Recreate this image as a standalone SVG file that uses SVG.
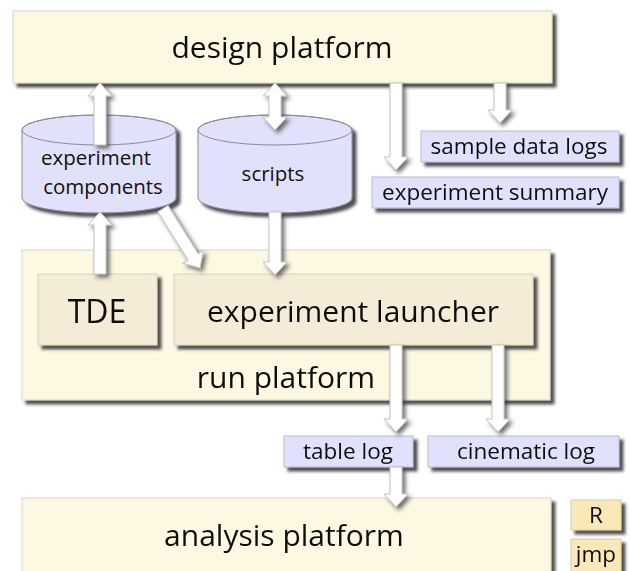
<svg xmlns="http://www.w3.org/2000/svg" width="630" height="571" viewBox="0 0 630 571">
<defs>
<filter id="sh" x="-10%" y="-10%" width="130%" height="140%">
<feDropShadow dx="4" dy="4" stdDeviation="1.8" flood-color="#303030" flood-opacity="0.85"/>
</filter>
<filter id="ash" x="-50%" y="-20%" width="200%" height="150%">
<feDropShadow dx="3" dy="3" stdDeviation="2" flood-color="#303030" flood-opacity="0.7"/>
</filter>
</defs>
<style>
text{font-family:"Open Sans",Lato,"Liberation Sans",sans-serif;fill:#111;text-anchor:middle}
.plat{fill:#fdf8e2;stroke:#d8d4c4;stroke-width:1}
.inner{fill:#f5ecd8;stroke:#d8d2c0;stroke-width:1}
.blue{fill:#e0e1fb;stroke:#b8b9d4;stroke-width:1}
.tool{fill:#f9e9b8;stroke:#d8cca0;stroke-width:1}
.cyl{fill:#e0e1fb;stroke:#8a8a9a;stroke-width:1}
.arr{fill:#ffffff;stroke:#c4c4c4;stroke-width:1}
.big{font-size:30px}
.mid{font-size:30px}
.tde{font-size:32px}
.sm{font-size:22.5px}
.cy{font-size:20.5px}
</style>

<g id="design-platform" filter="url(#sh)">
<rect class="plat" x="13" y="11" width="539" height="72"/>
<text class="big" x="282" y="58">design platform</text>
</g>

<g id="experiment-components">
<path class="cyl" filter="url(#sh)" d="M22,130 A77,15 0 0 1 176,130 L176,198 A77,15 0 0 1 22,198 Z"/>
<ellipse cx="99" cy="130" rx="77" ry="15" fill="none" stroke="#8a8a9a" stroke-width="1"/>
<text class="cy" x="96" y="165">experiment</text>
<text class="cy" x="103" y="194">components</text>
</g>

<g id="scripts">
<path class="cyl" filter="url(#sh)" d="M198,130 A77,15 0 0 1 352,130 L352,198 A77,15 0 0 1 198,198 Z"/>
<ellipse cx="275" cy="130" rx="77" ry="15" fill="none" stroke="#8a8a9a" stroke-width="1"/>
<text class="cy" x="273" y="181">scripts</text>
</g>

<g id="sample-data-logs" filter="url(#sh)">
<rect class="blue" x="421" y="131" width="198" height="31"/>
<text class="sm" x="519" y="154">sample data logs</text>
</g>

<g id="experiment-summary" filter="url(#sh)">
<rect class="blue" x="372" y="177" width="247" height="31"/>
<text class="sm" x="495" y="200">experiment summary</text>
</g>

<g id="run-platform" filter="url(#sh)">
<rect class="plat" x="22" y="250" width="528" height="150"/>
<text class="mid" x="286" y="388">run platform</text>
</g>

<g id="tde" filter="url(#sh)">
<rect class="inner" x="38" y="274" width="119" height="71"/>
<text class="tde" x="97" y="323">TDE</text>
</g>

<g id="experiment-launcher" filter="url(#sh)">
<rect class="inner" x="174" y="274" width="359" height="71"/>
<text class="mid" x="353" y="322">experiment launcher</text>
</g>

<g id="table-log" filter="url(#sh)">
<rect class="blue" x="284" y="436" width="129" height="31"/>
<text class="sm" x="348" y="459">table log</text>
</g>

<g id="cinematic-log" filter="url(#sh)">
<rect class="blue" x="428" y="436" width="191" height="31"/>
<text class="sm" x="526" y="459">cinematic log</text>
</g>

<g id="analysis-platform" filter="url(#sh)">
<rect class="plat" x="22" y="498" width="529" height="90"/>
<text class="mid" x="284" y="546">analysis platform</text>
</g>

<g id="r" filter="url(#sh)">
<rect class="tool" x="571" y="500" width="50" height="30"/>
<text class="sm" x="596" y="523">R</text>
</g>

<g id="jmp" filter="url(#sh)">
<rect class="tool" x="571" y="539" width="50" height="40"/>
<text class="sm" x="596" y="562">jmp</text>
</g>

<g id="connectors" filter="url(#ash)">
<!-- experiment components up to design platform -->
<polygon class="arr" points="94,145 106,145 106,96 112,96 100,83 88,96 94,96"/>
<!-- double arrow design <-> scripts -->
<polygon class="arr" points="275,83 287,96 281,96 281,117 287,117 275,130 263,117 269,117 269,96 263,96"/>
<!-- design to experiment summary -->
<polygon class="arr" points="390,83 402,83 402,157 408,157 396,170 384,157 390,157"/>
<!-- design to sample data logs -->
<polygon class="arr" points="494,83 506,83 506,110 512,110 500,123 488,110 494,110"/>
<!-- TDE up to experiment components -->
<polygon class="arr" points="94,274 106,274 106,225 112,225 100,212 88,225 94,225"/>
<!-- experiment components diagonal to launcher -->
<g transform="translate(200,268) rotate(-32)">
<polygon class="arr" points="-6,-70 6,-70 6,-13 12,-13 0,0 -12,-13 -6,-13"/>
</g>
<!-- scripts down to launcher -->
<polygon class="arr" points="269,212 281,212 281,262 287,262 275,275 263,262 269,262"/>
<!-- launcher to table log -->
<polygon class="arr" points="390,345 402,345 402,419 408,419 396,432 384,419 390,419"/>
<!-- launcher to cinematic log -->
<polygon class="arr" points="492,345 504,345 504,419 510,419 498,432 486,419 492,419"/>
<!-- table log to analysis platform -->
<polygon class="arr" points="390,467 402,467 402,494 408,494 396,507 384,494 390,494"/>
</g>
</svg>
